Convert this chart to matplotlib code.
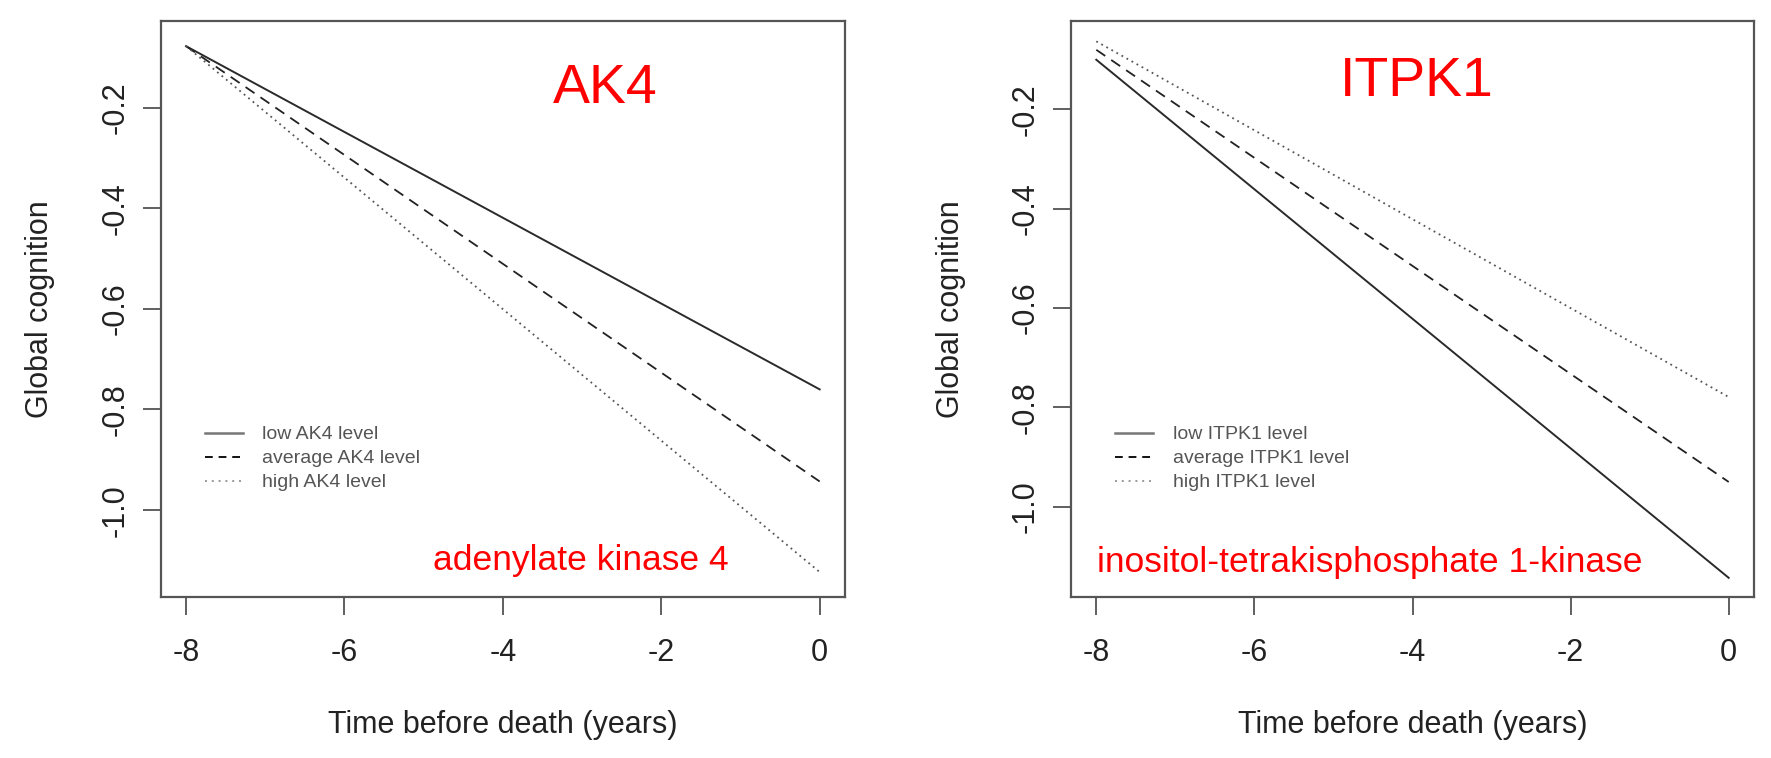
import matplotlib
matplotlib.use("Agg")
import matplotlib.pyplot as plt
from matplotlib.lines import Line2D
import numpy as np

plt.rcParams['font.family'] = ['Liberation Sans', 'DejaVu Sans']

# ---- data ----
years = [-8, 0]
ak4_low = [-0.078, -0.760]
ak4_avg = [-0.078, -0.943]
ak4_high = [-0.078, -1.123]
itpk1_low = [-0.100, -1.143]
itpk1_avg = [-0.080, -0.950]
itpk1_high = [-0.063, -0.779]

x_ticks = [-8, -6, -4, -2, 0]
y_ticks = [-1.0, -0.8, -0.6, -0.4, -0.2]
y_tick_labels = ["-1.0", "-0.8", "-0.6", "-0.4", "-0.2"]

panels = [
    dict(gene="AK4", name="adenylate kinase 4",
         series=[ak4_low, ak4_avg, ak4_high],
         ylim=(-1.172, -0.028),
         rect=[160.7, 845.0],
         title_xy=(0.649, 0.857), sub_xy=(0.398, 0.0464)),
    dict(gene="ITPK1", name="inositol-tetrakisphosphate 1-kinase",
         series=[itpk1_low, itpk1_avg, itpk1_high],
         ylim=(-1.181, -0.022),
         rect=[1071.0, 1754.0],
         title_xy=(0.507, 0.869), sub_xy=(0.038, 0.0429)),
]

W, H = 1771, 758
fig = plt.figure(figsize=(W / 100, H / 100), dpi=100)

top_px, bot_px = 21.0, 596.7
line_styles = [
    dict(color='#2a2a2a', lw=1.4, ls='-'),
    dict(color='#222222', lw=1.3, ls=(0, (6, 4))),
    dict(color='#555555', lw=1.3, ls=(0, (1, 2.2))),
]
legend_styles = [
    dict(color='#777777', lw=1.8, ls='-'),
    dict(color='#111111', lw=1.4, ls=(0, (4, 3))),
    dict(color='#999999', lw=1.4, ls=(0, (1, 2.5))),
]

for p in panels:
    x0, x1 = p['rect']
    ax = fig.add_axes([x0 / W, 1 - bot_px / H, (x1 - x0) / W, (bot_px - top_px) / H])
    for s, st in zip(p['series'], line_styles):
        ax.plot(years, s, color=st['color'], lw=st['lw'], linestyle=st['ls'])
    ax.set_xlim(-8.32, 0.32)
    ax.set_ylim(*p['ylim'])
    ax.set_xticks(x_ticks)
    ax.set_xticklabels([str(t) for t in x_ticks])
    ax.set_yticks(y_ticks)
    ax.set_yticklabels(y_tick_labels, rotation=90, va='center')
    for sp in ax.spines.values():
        sp.set_color('#555555')
        sp.set_linewidth(1.6)
    ax.tick_params(axis='both', direction='out', length=13, width=1.2,
                   color='#444444', labelsize=22, labelcolor='#222222')
    ax.tick_params(axis='x', pad=17)
    ax.tick_params(axis='y', pad=9)

    ax.text(0.5, -0.2229, "Time before death (years)", transform=ax.transAxes,
            ha='center', va='center', fontsize=22, color='#222222')
    ax.text(-0.1764, 0.5, "Global cognition", transform=ax.transAxes,
            ha='center', va='center', rotation=90, fontsize=22, color='#222222')

    ax.text(p['title_xy'][0], p['title_xy'][1], p['gene'], transform=ax.transAxes,
            ha='center', va='baseline', fontsize=40, color='#ff0000')
    ax.text(p['sub_xy'][0], p['sub_xy'][1], p['name'], transform=ax.transAxes,
            ha='left', va='baseline', fontsize=25.5, color='#ff0000')

    labels = [f"low {p['gene']} level", f"average {p['gene']} level", f"high {p['gene']} level"]
    handles = [Line2D([], [], color=st['color'], lw=st['lw'], linestyle=st['ls'])
               for st in legend_styles]
    leg = ax.legend(handles, labels, loc='upper left', bbox_to_anchor=(0.0647, 0.297),
                    frameon=False, fontsize=14, handlelength=1.95, handletextpad=1.0,
                    labelspacing=0.33, borderpad=0, borderaxespad=0)
    for t in leg.get_texts():
        t.set_color('#555555')

fig.savefig("out.png", dpi=100)
